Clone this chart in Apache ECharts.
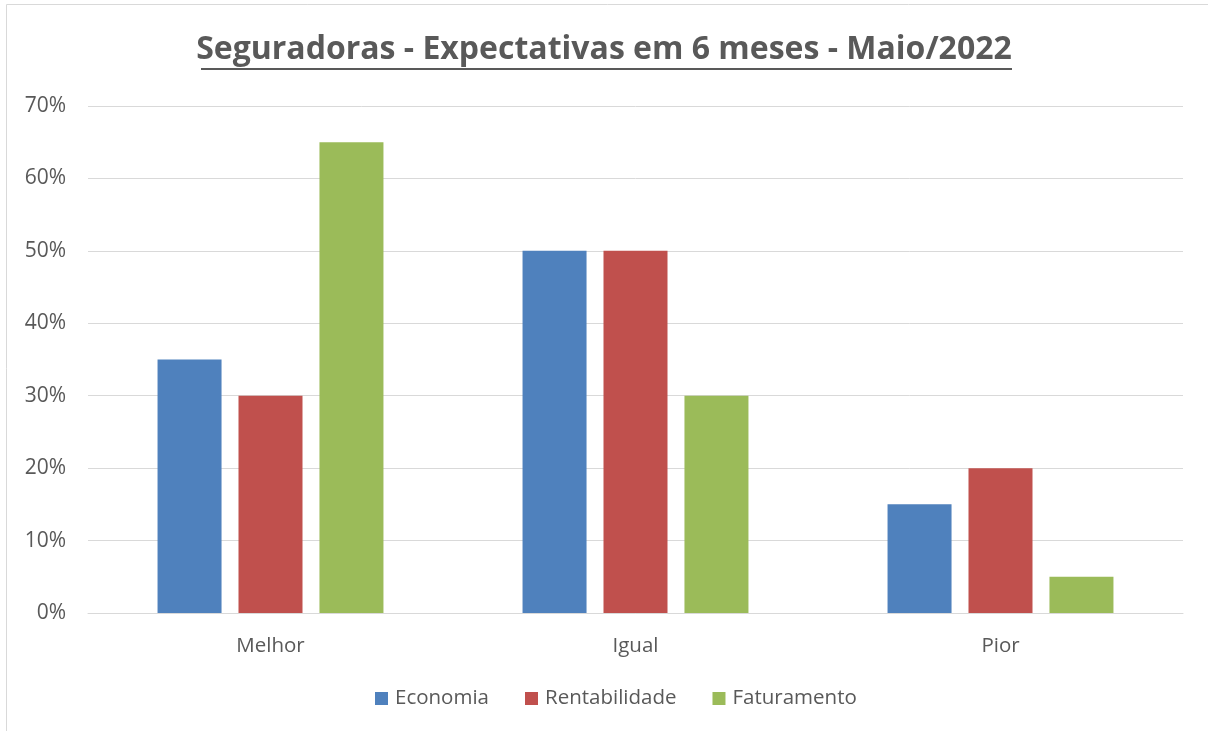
<!DOCTYPE html>
<html><head><meta charset="utf-8">
<script src="https://cdn.jsdelivr.net/npm/echarts@6/dist/echarts.min.js"></script>
<style>html,body{margin:0;padding:0;background:#fff}#c{width:1208px;height:731px}</style>
</head><body><div id="c"></div>
<script>
const titleText = 'Seguradoras - Expectativas em 6 meses - Maio/2022';
const categories = ['Melhor', 'Igual', 'Pior'];
const seriesNames = ['Economia', 'Rentabilidade', 'Faturamento'];
const economia = [35, 50, 15];
const rentabilidade = [30, 50, 20];
const faturamento = [65, 30, 5];
const colors = ['#4F81BD', '#C0504D', '#9BBB59'];
const font = 'Open Sans';
const chart = echarts.init(document.getElementById('c'));
const values = [economia, rentabilidade, faturamento];
chart.setOption({
  animation: false,
  textStyle: {fontFamily: font},
  title: {text: titleText, left: 'center', top: 29,
    textStyle: {fontFamily: font, fontSize: 32, fontWeight: 'bold', color: '#595959'}},
  graphic: [
    {type: 'rect', shape: {x: 6.5, y: 4.5, width: 1300, height: 900}, style: {fill: 'none', stroke: '#D9D9D9', lineWidth: 1}, silent: true},
    {type: 'line', shape: {x1: 201, y1: 69, x2: 1012, y2: 69}, style: {stroke: '#595959', lineWidth: 2}, silent: true}
  ],
  legend: {bottom: 17, left: 370, itemWidth: 13, itemHeight: 13, itemGap: 36,
    icon: 'rect', textStyle: {fontSize: 20.5, color: '#595959', fontFamily: font, padding: [0, 0, 0, 2]},
    data: seriesNames},
  grid: {left: 88, right: 25, top: 106, bottom: 118},
  xAxis: {type: 'category', data: categories,
    axisLine: {show: true, lineStyle: {color: '#D9D9D9', width: 1}},
    axisTick: {show: false},
    axisLabel: {fontSize: 20.5, color: '#595959', margin: 23, fontFamily: font}},
  yAxis: {type: 'value', min: 0, max: 70, interval: 10,
    axisLine: {show: false}, axisTick: {show: false},
    splitLine: {lineStyle: {color: '#D9D9D9', width: 1}},
    axisLabel: {formatter: '{value}%', fontSize: 21, color: '#595959', margin: 22, fontFamily: font}},
  series: seriesNames.map((n, i) => ({
    name: n, type: 'bar', data: values[i], barWidth: 64, barGap: '26.5%',
    itemStyle: {color: colors[i]}
  }))
});
</script></body></html>
